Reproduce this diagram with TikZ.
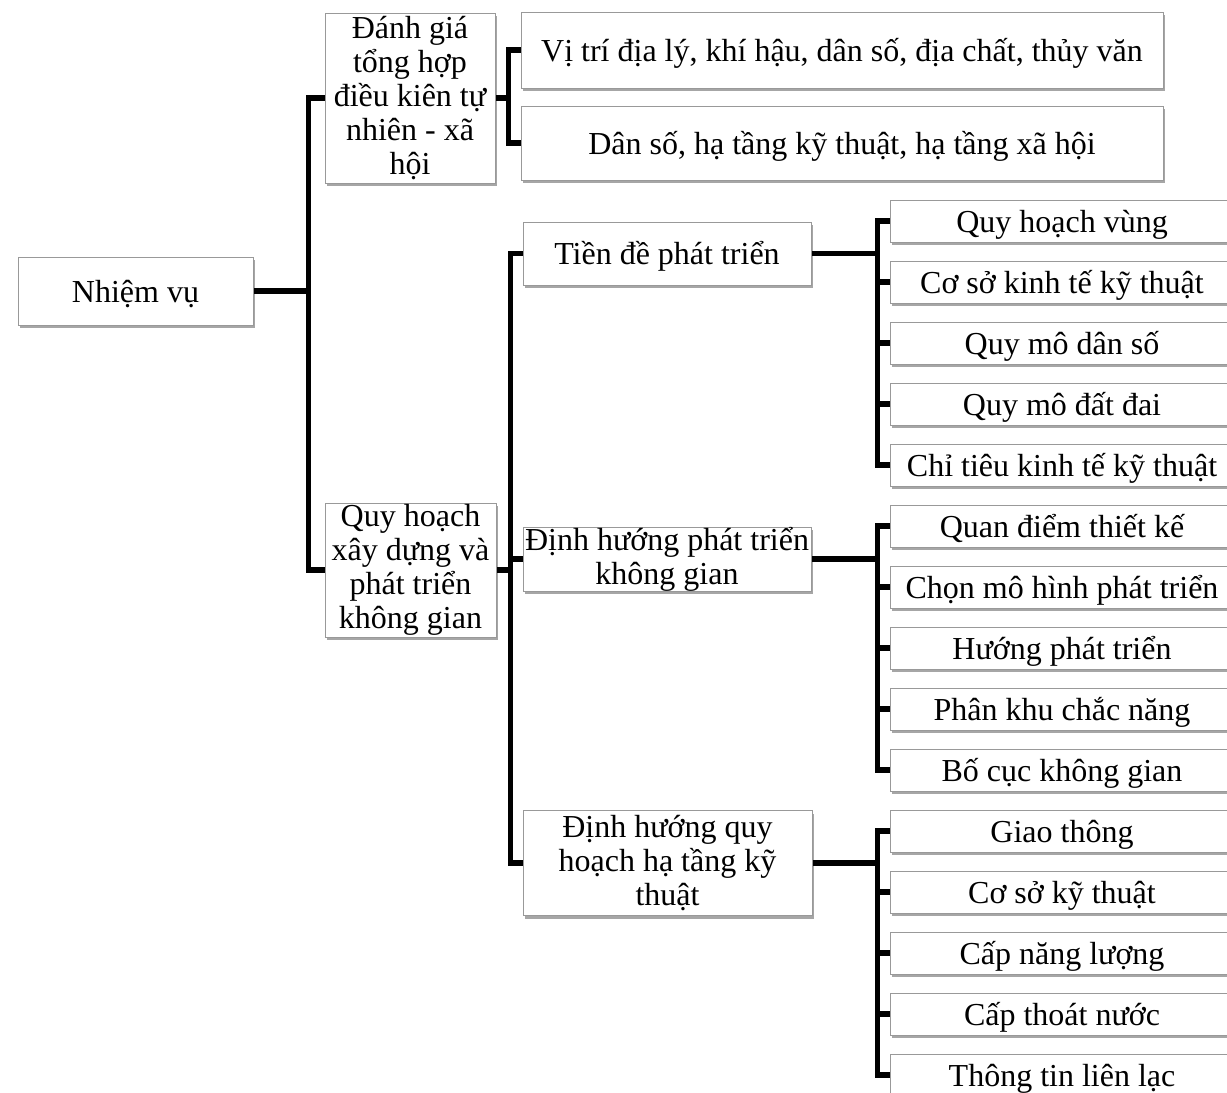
\documentclass[tikz,border=0pt]{standalone}
\usepackage{fontspec}
\setmainfont{Liberation Serif}
\usetikzlibrary{shadows,backgrounds}
\begin{document}
\begin{tikzpicture}[x=1pt,y=-1pt,
  box/.style={draw=black!40,line width=0.9pt,fill=white,inner sep=0pt,align=center,
    font=\fontsize{32}{34}\selectfont,
    drop shadow={shadow xshift=2pt,shadow yshift=-3pt,opacity=0.35,fill=black}},
  one/.style={box,text height=24pt,text depth=2pt},
  leaf/.style={one,minimum width=344pt,minimum height=42pt},
  conn/.style={line width=5.2pt,line join=miter,line cap=butt}]
\useasboundingbox (0,0) rectangle (1227,1093);
\node[one,minimum width=235pt,minimum height=68pt] (nv) at (135.5,291) {Nhiệm vụ};
\node[box,minimum width=170pt,minimum height=170pt] (dg) at (410,98) {Đánh giá\\tổng hợp\\điều kiên tự\\nhiên - xã\\hội};
\node[box,minimum width=171pt,minimum height=134pt] (qh) at (410.5,570) {Quy hoạch\\xây dựng và\\phát triển\\không gian};
\node[one,minimum width=642pt,minimum height=76pt] (v1) at (842,50) {Vị trí địa lý, khí hậu, dân số, địa chất, thủy văn};
\node[one,minimum width=642pt,minimum height=74pt] (v2) at (842,143) {Dân số, hạ tầng kỹ thuật, hạ tầng xã hội};
\node[one,minimum width=288pt,minimum height=63pt] (td) at (667,253.5) {Tiền đề phát triển};
\node[box,minimum width=288pt,minimum height=63pt] (dh) at (667,559) {Định hướng phát triển\\không gian};
\node[box,minimum width=289pt,minimum height=105pt] (dq) at (667.5,863) {Định hướng quy\\hoạch hạ tầng kỹ\\thuật};
\node[leaf] (a1) at (1062,221) {Quy hoạch vùng};
\node[leaf] (a2) at (1062,282) {Cơ sở kinh tế kỹ thuật};
\node[leaf] (a3) at (1062,343) {Quy mô dân số};
\node[leaf] (a4) at (1062,404) {Quy mô đất đai};
\node[leaf] (a5) at (1062,465) {Chỉ tiêu kinh tế kỹ thuật};
\node[leaf] (b1) at (1062,526) {Quan điểm thiết kế};
\node[leaf] (b2) at (1062,587) {Chọn mô hình phát triển};
\node[leaf] (b3) at (1062,648) {Hướng phát triển};
\node[leaf] (b4) at (1062,709) {Phân khu chắc năng};
\node[leaf] (b5) at (1062,770) {Bố cục không gian};
\node[leaf] (c1) at (1062,831) {Giao thông};
\node[leaf] (c2) at (1062,892) {Cơ sở kỹ thuật};
\node[leaf] (c3) at (1062,953) {Cấp năng lượng};
\node[leaf] (c4) at (1062,1014) {Cấp thoát nước};
\node[leaf] (c5) at (1062,1075) {Thông tin liên lạc};
\begin{pgfonlayer}{background}
\foreach \t in {dg,qh} \draw[conn] (nv.east) -- ++(55,0) |- (\t.west);
\foreach \t in {v1,v2} \draw[conn] (dg.east) -- ++(13,0) |- (\t.west);
\foreach \t in {td,dh,dq} \draw[conn] (qh.east) -- ++(14,0) |- (\t.west);
\foreach \t in {a1,a2,a3,a4,a5} \draw[conn] (td.east) -- ++(66,0) |- (\t.west);
\foreach \t in {b1,b2,b3,b4,b5} \draw[conn] (dh.east) -- ++(66,0) |- (\t.west);
\foreach \t in {c1,c2,c3,c4,c5} \draw[conn] (dq.east) -- ++(65,0) |- (\t.west);
\end{pgfonlayer}
\end{tikzpicture}
\end{document}
